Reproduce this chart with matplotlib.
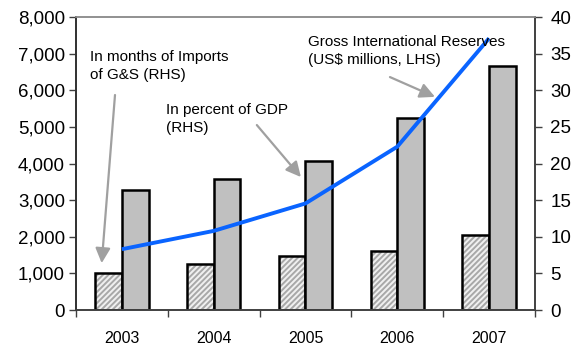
"""Gross international reserves, 2003-2007"""

import matplotlib.pyplot as plt
import numpy as np
from matplotlib.ticker import FuncFormatter

plt.rcParams["font.family"] = ["Liberation Sans", "DejaVu Sans"]
plt.rcParams["hatch.linewidth"] = 1.4

years = ["2003", "2004", "2005", "2006", "2007"]
months_imports = [5.0, 6.3, 7.4, 8.0, 10.25]       # RHS
pct_gdp = [16.4, 17.9, 20.3, 26.25, 33.3]          # RHS
reserves = [1660, 2160, 2910, 4460, 7420]          # US$ millions, LHS

x = np.arange(len(years))
w = 0.29

fig = plt.figure(figsize=(5.73, 3.47), dpi=100)
ax = fig.add_axes([0.1326, 0.1066, 0.8011, 0.8444])
ax2 = ax.twinx()

# bars on the right-hand scale
ax2.bar(x - w / 2, months_imports, w, color="#f0f0f0", edgecolor="#a8a8a8",
        hatch="//////", linewidth=0, zorder=1)
ax2.bar(x - w / 2, months_imports, w, fill=False, edgecolor="black",
        linewidth=1.8, zorder=2)
ax2.bar(x + w / 2, pct_gdp, w, color="#c0c0c0", edgecolor="black",
        linewidth=1.8, zorder=2)

# reserves line on the left-hand scale, drawn above the bars
ax.set_zorder(ax2.get_zorder() + 1)
ax.patch.set_visible(False)
ax.plot(x, reserves, color="#0a64ff", linewidth=2.8, solid_capstyle="butt")

ax.set_xlim(-0.5, len(years) - 0.5)
ax.set_ylim(0, 8000)
ax2.set_ylim(0, 40)
ax.set_yticks(np.arange(0, 8001, 1000))
ax2.set_yticks(np.arange(0, 41, 5))
ax.yaxis.set_major_formatter(FuncFormatter(lambda v, p: f"{v:,.0f}"))

# category labels centred, tick marks between categories
ax.set_xticks(np.arange(-0.5, len(years), 1.0))
ax.set_xticklabels([])
ax.set_xticks(x, minor=True)
ax.set_xticklabels(years, minor=True, fontsize=11.5)
ax.tick_params(axis="x", which="minor", length=0, pad=15)
ax.tick_params(axis="x", which="major", length=5, width=1, color="#404040",
               direction="out")
ax.tick_params(axis="y", labelsize=13.5, length=5, width=1, color="#404040",
               pad=3)
ax2.tick_params(axis="y", labelsize=13.5, length=5, width=1, color="#404040",
                pad=6)

for a in (ax, ax2):
    a.spines["left"].set_color("#303030")
    a.spines["bottom"].set_color("#404040")
    a.spines["right"].set_color("#404040")
    a.spines["top"].set_color("#909090")
    for s in a.spines.values():
        s.set_linewidth(1.2)

arrow = dict(arrowstyle="-|>,head_length=0.9,head_width=0.45", color="#a0a0a0",
             lw=1.6, shrinkA=0, shrinkB=0)

ax.text(-0.35, 7100, "In months of Imports\nof G&S (RHS)", fontsize=11,
        va="top", ha="left", linespacing=1.35)
ax.annotate("", xy=(-0.22, 1280), xytext=(-0.075, 5870), arrowprops=arrow)

ax.text(0.48, 5650, "In percent of GDP\n(RHS)", fontsize=11,
        va="top", ha="left", linespacing=1.35)
ax.annotate("", xy=(1.95, 3630), xytext=(1.47, 5050), arrowprops=arrow)

ax.text(2.03, 7510, "Gross International Reserves\n(US$ millions, LHS)",
        fontsize=11, va="top", ha="left", linespacing=1.35)
ax.annotate("", xy=(3.41, 5820), xytext=(2.92, 6360), arrowprops=arrow)

fig.savefig("out.png", dpi=100)
